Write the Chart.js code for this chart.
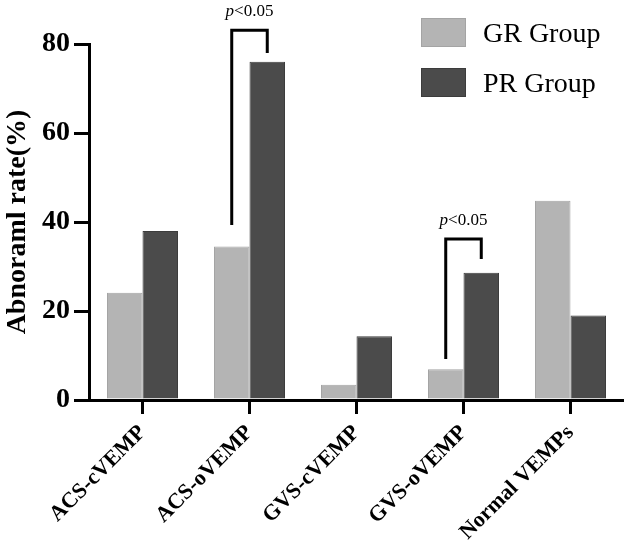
<!DOCTYPE html>
<html>
<head>
<meta charset="utf-8">
<script src="https://cdn.jsdelivr.net/npm/chart.js@4"></script>
<style>
  html, body { margin: 0; padding: 0; background: #fff; }
  #wrap { width: 624px; height: 544px; }
</style>
</head>
<body>
<div id="wrap"><canvas id="myChart" width="624" height="544"></canvas></div>
<script>
// data
const categories = ['ACS-cVEMP', 'ACS-oVEMP', 'GVS-cVEMP', 'GVS-oVEMP', 'Normal VEMPs'];
const grValues = [24.1, 34.5, 3.4, 6.9, 44.8];
const prValues = [38.0, 76.0, 14.3, 28.6, 19.0];
const yTicks = [0, 20, 40, 60, 80];

// significance brackets (category index, bracket heights in % units)
const bracketCats = [1, 3];
const bracketTop = [83.1, 36.2];
const bracketLeftEnd = [39.3, 9.2];
const bracketRightEnd = [78.0, 31.7];
const bracketLabel = ['<0.05', '<0.05'];

const serif = '"Liberation Serif", "Times New Roman", serif';

const bracketPlugin = {
    id: 'brackets',
    afterDraw(chart) {
        const ctx = chart.ctx;
        const y = chart.scales.y;
        const grMeta = chart.getDatasetMeta(0);
        const prMeta = chart.getDatasetMeta(1);
        ctx.save();
        ctx.strokeStyle = '#000';
        ctx.lineWidth = 3;
        ctx.lineCap = 'butt';
        ctx.lineJoin = 'miter';
        bracketCats.forEach((cat, i) => {
            const xl = grMeta.data[cat].x;
            const xr = prMeta.data[cat].x;
            const yt = y.getPixelForValue(bracketTop[i]);
            ctx.beginPath();
            ctx.moveTo(xl, y.getPixelForValue(bracketLeftEnd[i]));
            ctx.lineTo(xl, yt);
            ctx.lineTo(xr, yt);
            ctx.lineTo(xr, y.getPixelForValue(bracketRightEnd[i]));
            ctx.stroke();

            // "p<0.05" with italic p
            ctx.fillStyle = '#000';
            ctx.textBaseline = 'alphabetic';
            ctx.textAlign = 'left';
            const fItal = 'italic 17px ' + serif;
            const fReg = '17px ' + serif;
            ctx.font = fItal;
            const wp = ctx.measureText('p').width;
            ctx.font = fReg;
            const wr = ctx.measureText(bracketLabel[i]).width;
            const cx = (xl + xr) / 2;
            const x0 = cx - (wp + wr) / 2;
            const by = yt - 14;
            ctx.font = fItal;
            ctx.fillText('p', x0, by);
            ctx.font = fReg;
            ctx.fillText(bracketLabel[i], x0 + wp, by);
        });
        ctx.restore();
    }
};

const legendPlugin = {
    id: 'boxLegend',
    afterDraw(chart) {
        const ctx = chart.ctx;
        const boxes = [[421, 18], [421, 68]];
        ctx.save();
        chart.data.datasets.forEach((ds, i) => {
            const [bx, by] = boxes[i];
            ctx.fillStyle = ds.backgroundColor;
            ctx.fillRect(bx, by, 45, 29);
            ctx.strokeStyle = ds.borderColor;
            ctx.lineWidth = 1;
            ctx.strokeRect(bx + 0.5, by + 0.5, 44, 28);
            ctx.fillStyle = '#000';
            ctx.font = '28px ' + serif;
            ctx.textAlign = 'left';
            ctx.textBaseline = 'alphabetic';
            ctx.fillText(ds.label, 483, by + 24);
        });
        ctx.restore();
    }
};

const ctx = document.getElementById('myChart').getContext('2d');
const myChart = new Chart(ctx, {
    type: 'bar',
    data: {
        labels: categories,
        datasets: [{
            label: 'GR Group',
            data: grValues,
            backgroundColor: '#b4b4b4',
            borderColor: '#a4a4a4',
            borderWidth: 1
        }, {
            label: 'PR Group',
            data: prValues,
            backgroundColor: '#4b4b4b',
            borderColor: '#3c3c3c',
            borderWidth: 1
        }]
    },
    options: {
        responsive: false,
        animation: false,
        devicePixelRatio: 1,
        categoryPercentage: 0.664,
        barPercentage: 1.0,
        layout: {
            padding: { top: 44, right: 0, left: 0, bottom: 0 }
        },
        plugins: {
            legend: { display: false },
            tooltip: { enabled: false }
        },
        scales: {
            x: {
                offset: true,
                afterFit(scale) { scale.height = 144; },
                grid: {
                    offset: false,
                    drawOnChartArea: false,
                    drawTicks: true,
                    tickLength: 14,
                    lineWidth: 3,
                    color: '#000'
                },
                border: { display: true, width: 3, color: '#000' },
                ticks: {
                    minRotation: 45,
                    maxRotation: 45,
                    autoSkip: false,
                    padding: 6,
                    color: '#000',
                    font: { family: serif, size: 22, weight: 'bold' }
                }
            },
            y: {
                min: 0,
                max: 80,
                afterFit(scale) { scale.width = 89; },
                afterBuildTicks(scale) { scale.ticks = yTicks.map(v => ({ value: v })); },
                grid: {
                    drawOnChartArea: false,
                    drawTicks: true,
                    tickLength: 15,
                    lineWidth: 3,
                    color: '#000'
                },
                border: { display: true, width: 3, color: '#000' },
                ticks: {
                    padding: 4,
                    color: '#000',
                    font: { family: serif, size: 28, weight: 'bold' }
                },
                title: {
                    display: true,
                    text: 'Abnoraml rate(%)',
                    color: '#000',
                    padding: { top: 1, bottom: 0 },
                    font: { family: serif, size: 28, weight: 'bold' }
                }
            }
        }
    },
    plugins: [bracketPlugin, legendPlugin]
});
</script>
</body>
</html>
